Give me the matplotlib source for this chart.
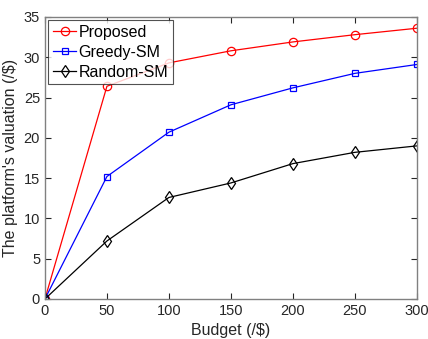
import matplotlib
matplotlib.use("Agg")
import matplotlib.pyplot as plt

budget = [0, 50, 100, 150, 200, 250, 300]
proposed = [0, 26.4, 29.3, 30.8, 31.9, 32.8, 33.6]
greedy_sm = [0, 15.2, 20.7, 24.1, 26.2, 28.0, 29.1]
random_sm = [0, 7.2, 12.6, 14.4, 16.8, 18.2, 19.0]

plt.rcParams['font.family'] = ['Liberation Sans', 'DejaVu Sans']

fig = plt.figure(figsize=(4.28, 3.39), dpi=100)
ax = fig.add_axes([0.105, 0.118, 0.869, 0.832])

ax.plot(budget, proposed, '-o', color='red', lw=0.9, ms=6, mfc='none', mew=0.9, label='Proposed')
ax.plot(budget, greedy_sm, '-s', color='blue', lw=0.9, ms=5, mfc='none', mew=0.9, label='Greedy-SM')
ax.plot(budget, random_sm, '-d', color='black', lw=0.9, ms=6, mfc='none', mew=0.9, label='Random-SM')

ax.set_xlim(0, 300)
ax.set_ylim(0, 35)
ax.set_xticks(range(0, 301, 50))
ax.set_yticks(range(0, 36, 5))
ax.tick_params(direction='in', top=True, right=True, labelsize=10.5, colors='#262626', length=4)
for sp in ax.spines.values():
    sp.set_color('#808080')
    sp.set_linewidth(1.0)

ax.set_xlabel('Budget (/$)', fontsize=11.5, color='#262626')
ax.set_ylabel("The platform's valuation (/$)", fontsize=11.5, color='#262626')

leg = ax.legend(loc='upper left', fontsize=11.5, frameon=True, fancybox=False,
                edgecolor='#262626', handlelength=1.45, handletextpad=0.15,
                borderpad=0.3, labelspacing=0.3, borderaxespad=0.2)
leg.get_frame().set_linewidth(0.8)

fig.savefig('out.png', dpi=100)
